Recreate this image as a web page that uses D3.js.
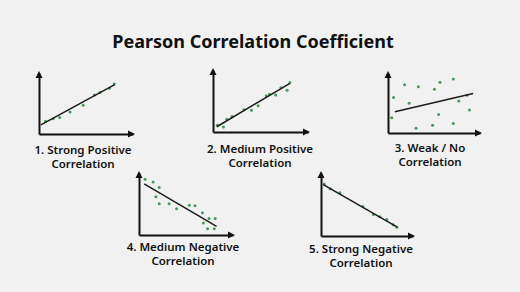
<!DOCTYPE html>
<html>
<head>
<meta charset="utf-8">
<script src="https://cdn.jsdelivr.net/npm/d3@7"></script>
<style>
  html, body { margin: 0; padding: 0; background: #f1f1f1; }
  svg { display: block; }
</style>
</head>
<body>
<div id="chart"></div>
<script>
// chart values, in data units (0-10 on both axes of each small panel)
var title = "Pearson Correlation Coefficient";
var labels = [
  ["1. Strong Positive", "Correlation"],
  ["2. Medium Positive", "Correlation"],
  ["3. Weak / No", "Correlation"],
  ["4. Medium Negative", "Correlation"],
  ["5. Strong Negative", "Correlation"]
];
var strongPos = [[0.7,2.1],[1.5,2.5],[2.2,2.7],[3.3,3.6],[4.7,4.7],[5.9,6.4],[6.5,6.8],[7.5,7.5],[8.0,8.2]];
var mediumPos = [[0.45,1.1],[1.1,0.8],[1.45,2.05],[2.0,2.5],[3.25,3.6],[4.05,3.5],[4.75,4.25],[5.6,5.85],[5.95,6.1],[6.6,5.95],[7.15,7.15],[7.8,6.75],[8.1,8.0]];
var weak = [[1.8,8.05],[3.3,7.7],[5.65,8.45],[7.1,9.0],[5.05,7.3],[0.6,5.9],[2.3,4.95],[7.7,5.35],[8.6,6.3],[8.85,3.85],[0.4,2.55],[5.5,3.1],[3.05,0.8],[4.85,1.3],[7.1,1.6]];
var mediumNeg = [[0.65,9.0],[1.5,8.55],[2.15,7.65],[1.8,6.15],[2.15,5.05],[3.2,5.05],[4.0,4.25],[5.35,4.8],[5.95,4.7],[6.75,3.6],[7.45,2.65],[8.1,2.65],[6.85,1.95],[7.3,1.0],[8.0,1.0]];
var strongNeg = [[0.35,8.25],[1.0,7.5],[2.05,6.85],[4.55,4.7],[5.7,3.4],[6.4,3.05],[7.15,2.6],[7.85,1.8],[8.25,1.4]];
var seriesPoints = [strongPos, mediumPos, weak, mediumNeg, strongNeg];
// fitted lines: [x0, y0, x1, y1]
var fitLines = [
  [0.2, 1.5, 8.05, 8.1],
  [0.4, 0.85, 8.1, 7.85],
  [0.75, 3.55, 9.25, 6.6],
  [0.55, 8.25, 8.25, 1.4],
  [0.25, 8.15, 8.3, 1.4]
];

// panel layout: origin of the axes and axis lengths in px
var panels = [
  {ox: 39,  oy: 134, w: 94, h: 61, cx: 83,  ty: 154},
  {ox: 213, oy: 132, w: 95, h: 62, cx: 260, ty: 153},
  {ox: 388, oy: 133, w: 92, h: 60, cx: 430, ty: 152},
  {ox: 139, oy: 235, w: 94, h: 62, cx: 183, ty: 251},
  {ox: 321, oy: 236, w: 92, h: 63, cx: 361, ty: 253}
];

var width = 520, height = 292;
var svg = d3.select("#chart").append("svg")
  .attr("width", width)
  .attr("height", height);

svg.append("rect")
  .attr("width", width)
  .attr("height", height)
  .attr("fill", "#f1f1f1");

svg.append("text")
  .attr("x", 253)
  .attr("y", 48)
  .attr("text-anchor", "middle")
  .attr("font-family", "'Noto Sans', 'Open Sans', sans-serif")
  .attr("font-weight", 700)
  .attr("font-size", 18)
  .attr("fill", "#111")
  .text(title);

panels.forEach(function(p, i) {
  var g = svg.append("g")
    .attr("transform", "translate(" + p.ox + "," + p.oy + ")");

  var x = d3.scaleLinear().domain([0, 10]).range([0, p.w]);
  var y = d3.scaleLinear().domain([0, 10]).range([0, -p.h]);

  // points
  g.selectAll("circle")
    .data(seriesPoints[i])
    .enter().append("circle")
    .attr("cx", function(d) { return x(d[0]); })
    .attr("cy", function(d) { return y(d[1]); })
    .attr("r", 1.5)
    .attr("fill", "#47985b");

  // fitted line
  var fl = fitLines[i];
  g.append("line")
    .attr("x1", x(fl[0])).attr("y1", y(fl[1]))
    .attr("x2", x(fl[2])).attr("y2", y(fl[3]))
    .attr("stroke", "#1c1c1c")
    .attr("stroke-width", 1.5);

  // axes without ticks
  var xa = g.append("g").call(d3.axisBottom(x).ticks(0).tickSize(0).tickSizeOuter(0));
  var ya = g.append("g").call(d3.axisLeft(y).ticks(0).tickSize(0).tickSizeOuter(0));
  [xa, ya].forEach(function(a) {
    a.select(".domain").attr("stroke", "#111").attr("stroke-width", 2);
    a.selectAll("text").remove();
  });

  // arrow heads
  var xe = x(10), ye = y(10);
  g.append("path")
    .attr("d", "M" + (xe + 2) + ",0L" + (xe - 5) + ",-3.5L" + (xe - 5) + ",3.5Z")
    .attr("fill", "#111");
  g.append("path")
    .attr("d", "M0," + (ye - 2) + "L-3.5," + (ye + 5) + "L3.5," + (ye + 5) + "Z")
    .attr("fill", "#111");

  // label, two separate lines
  labels[i].forEach(function(s, k) {
    svg.append("text")
      .attr("x", p.cx)
      .attr("y", p.ty + k * 13.5)
      .attr("text-anchor", "middle")
      .attr("font-family", "'Noto Sans', 'Open Sans', sans-serif")
      .attr("font-weight", 600)
      .attr("font-size", 11.5)
      .attr("fill", "#111")
      .text(s);
  });
});
</script>
</body>
</html>
